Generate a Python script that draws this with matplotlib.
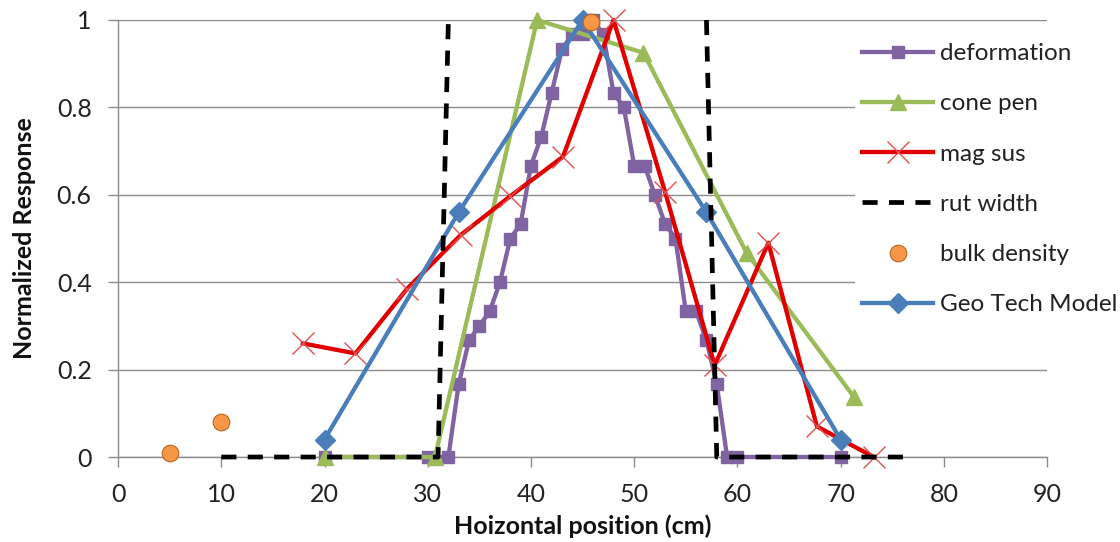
import numpy as np
import matplotlib.pyplot as plt

# data
deform_x = [20, 30, 32, 33, 34, 35, 36, 37, 38, 39, 40, 41, 42, 43, 44, 45, 46,
            47, 48, 49, 50, 51, 52, 53, 54, 55, 56, 57, 58, 59, 60, 70]
deform_y = [0, 0, 0, 0.167, 0.267, 0.30, 0.333, 0.40, 0.50, 0.533, 0.667, 0.733, 0.833, 0.933, 0.967, 0.967, 1.0,
            0.967, 0.833, 0.80, 0.667, 0.667, 0.60, 0.533, 0.50, 0.333, 0.333, 0.267, 0.167, 0, 0, 0]

cone_x = [20, 30.7, 40.6, 50.9, 60.9, 71.3]
cone_y = [0, 0, 1.0, 0.925, 0.467, 0.137]

mag_x = [17.9, 23.0, 28.0, 33.2, 38.0, 43.1, 48.0, 53.0, 57.8, 63.0, 67.7, 73.2]
mag_y = [0.26, 0.237, 0.385, 0.508, 0.597, 0.687, 1.0, 0.606, 0.21, 0.49, 0.07, 0.0]

# two pieces of the rut outline, split by a gap
rut_x = [10, 31, 32, np.nan, 57, 58, 76.5]
rut_y = [0, 0, 1, np.nan, 1, 0, 0]

bulk_x = [5, 10, 45.8]
bulk_y = [0.01, 0.08, 0.995]

geo_x = [20, 33, 45, 57, 70]
geo_y = [0.04, 0.56, 1.0, 0.56, 0.04]

plt.rcParams['font.family'] = ['Lato', 'DejaVu Sans']

fig = plt.figure(figsize=(11.2, 5.42), dpi=100)
ax = fig.add_axes([0.1054, 0.1568, 0.8295, 0.8063])

lw = 3.1
ax.plot(deform_x, deform_y, color='#8064A2', lw=lw, marker='s', ms=9,
        label='deformation', clip_on=False, zorder=3)
ax.plot(cone_x, cone_y, color='#9BBB59', lw=lw, marker='^', ms=12,
        label='cone pen', clip_on=False, zorder=3)
ax.plot(mag_x, mag_y, color='#E00000', lw=lw, marker='x', ms=16, mew=1.0,
        mec='#E05050', label='mag sus', clip_on=False, zorder=4)
ax.plot(rut_x, rut_y, color='black', lw=3.4, dashes=(3.2, 2.4),
        label='rut width', clip_on=False, zorder=5)
ax.plot(bulk_x, bulk_y, ls='none', marker='o', ms=12, color='#F79646',
        mec='#B8651E', mew=0.8, label='bulk density', clip_on=False, zorder=6)
ax.plot(geo_x, geo_y, color='#4A7EBB', lw=lw, marker='D', ms=10,
        label='Geo Tech Model', clip_on=False, zorder=4)

ax.set_xlim(0, 90)
ax.set_ylim(0, 1)
ax.set_xticks(np.arange(0, 91, 10))
ax.set_yticks([0, 0.2, 0.4, 0.6, 0.8, 1.0])
ax.set_yticklabels(['0', '0.2', '0.4', '0.6', '0.8', '1'])
ax.yaxis.grid(True, color='#8C8C8C', lw=1.0)
ax.set_axisbelow(True)
for s in ['top', 'right']:
    ax.spines[s].set_visible(False)
for s in ['left', 'bottom']:
    ax.spines[s].set_color('#8C8C8C')
    ax.spines[s].set_linewidth(1.0)
ax.tick_params(axis='both', colors='#8C8C8C', labelcolor='#222222',
               labelsize=18, length=7, width=1.0, direction='out')
ax.tick_params(axis='y', pad=12)
ax.tick_params(axis='x', pad=12)

ax.set_xlabel('Hoizontal position (cm)', fontsize=18, fontweight='bold',
              color='#111111', labelpad=6)
ax.set_ylabel('Normalized Response', fontsize=18, fontweight='bold',
              color='#111111', labelpad=15)

leg = ax.legend(loc='upper left', bbox_to_anchor=(855 / 1120, 1 - 36 / 542),
                bbox_transform=fig.transFigure, fontsize=17.5, frameon=True,
                framealpha=1.0, edgecolor='none', facecolor='white',
                handlelength=2.9, handletextpad=0.3, labelspacing=1.2,
                borderpad=0.3, borderaxespad=0)
for t in leg.get_texts():
    t.set_color('#222222')

fig.savefig('out.png', dpi=100)
